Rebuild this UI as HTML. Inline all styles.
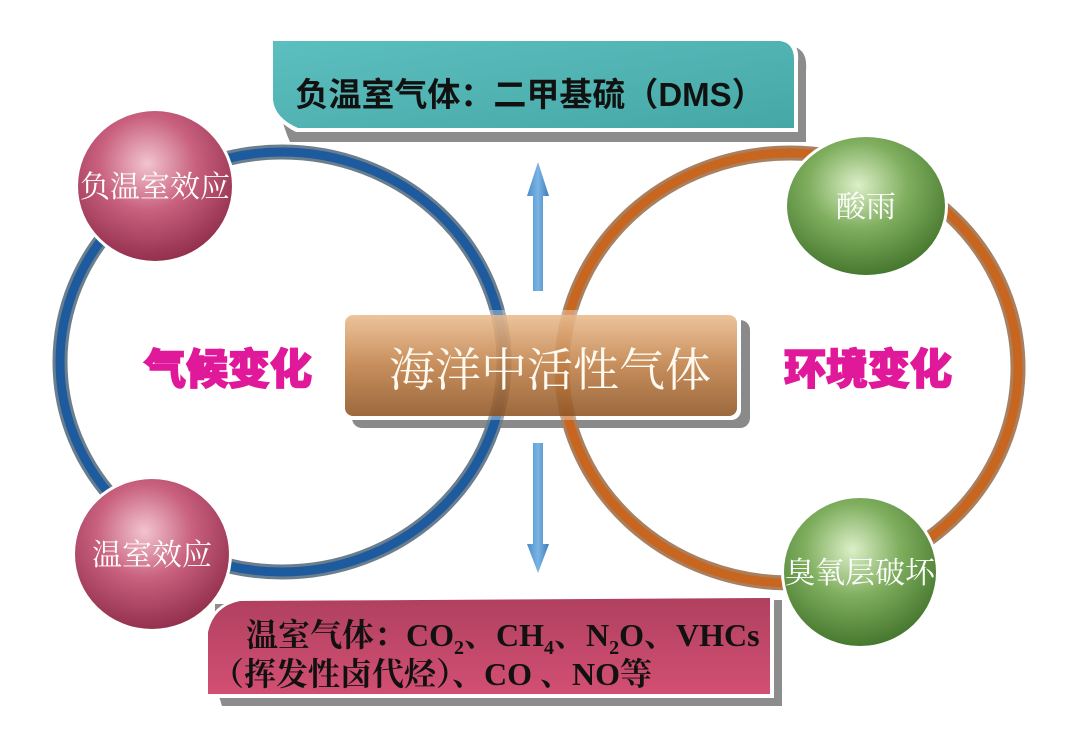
<!DOCTYPE html>
<html><head><meta charset="utf-8"><style>
html,body{margin:0;padding:0;background:#fff;}
svg{display:block;}
</style></head><body>
<svg width="1071" height="736" viewBox="0 0 1071 736" xmlns="http://www.w3.org/2000/svg">
<defs>
<radialGradient id="pk" cx="0.45" cy="0.35" r="0.7"><stop offset="0" stop-color="#f2c4d0"/><stop offset="0.45" stop-color="#c8607e"/><stop offset="1" stop-color="#8c2a48"/></radialGradient>
<radialGradient id="gr" cx="0.45" cy="0.35" r="0.7"><stop offset="0" stop-color="#dcefc8"/><stop offset="0.45" stop-color="#7fae5e"/><stop offset="1" stop-color="#3e7028"/></radialGradient>
<linearGradient id="br" x1="0" y1="0" x2="0" y2="1"><stop offset="0" stop-color="#e9b98a"/><stop offset="0.5" stop-color="#bd7a40"/><stop offset="1" stop-color="#8a4f1c"/></linearGradient>
<linearGradient id="tl" x1="0" y1="0" x2="1" y2="1"><stop offset="0" stop-color="#5cbfbf"/><stop offset="1" stop-color="#46a8a6"/></linearGradient>
<linearGradient id="rs" x1="0" y1="0" x2="0" y2="1"><stop offset="0" stop-color="#b0405f"/><stop offset="1" stop-color="#d24f72"/></linearGradient>
<linearGradient id="ar" x1="0" y1="0" x2="1" y2="0"><stop offset="0" stop-color="#4a8ccc"/><stop offset="0.5" stop-color="#7ab4e4"/><stop offset="1" stop-color="#3d7dbd"/></linearGradient>
</defs>
<!-- top box -->
<path d="M280 46 L790 46 Q808 48 806 70 L806 142 L290 142 Q280 120 280 100 Z" fill="#8c8c8c"/>
<path d="M270 38 L782 38 Q800 40 798 62 L798 132 L296 132 Q272 120 270 100 Z" fill="#fff"/>
<path d="M273 41 L780 41 Q795 43 794 62 L794 128 L298 128 Q275 118 273 100 Z" fill="url(#tl)"/>
<text x="530" y="106" text-anchor="middle" font-family="'Liberation Sans','Noto Sans CJK SC',sans-serif" font-weight="bold" font-size="33" fill="#111">负温室气体：二甲基硫（DMS）</text>
<!-- bottom box -->
<path d="M215 604 L782 600 L782 706 L222 706 L214 680 Z" fill="#8c8c8c"/>
<path d="M240 598 Q212 604 205 630 L205 698 L774 698 L774 596 Z" fill="#fff"/>
<path d="M240 601 Q214 606 208 632 L208 694 L770 694 L770 598 Z" fill="url(#rs)"/>
<text font-family="'Liberation Serif','Noto Serif CJK SC',serif" font-weight="bold" font-size="32" fill="#111">
<tspan x="246" y="646">温室气体：CO<tspan font-size="20" dy="8">2</tspan><tspan dy="-8">、CH</tspan><tspan font-size="20" dy="8">4</tspan><tspan dy="-8">、N</tspan><tspan font-size="20" dy="8">2</tspan><tspan dy="-8">O、VHCs</tspan></tspan>
<tspan x="212" y="685">（挥发性卤代烃）、CO 、NO等</tspan></text>
<!-- arrows -->
<path d="M538 162 L549 196 L543 196 L543 291 L533 291 L533 196 L527 196 Z" fill="url(#ar)"/>
<path d="M538 573 L549 544 L543 544 L543 443 L533 443 L533 544 L527 544 Z" fill="url(#ar)"/>
<!-- center box -->
<rect x="352" y="320" width="398" height="108" rx="10" fill="#8a8a8a"/>
<rect x="341" y="310" width="400" height="110" rx="10" fill="#fff"/>
<!-- circles -->
<ellipse cx="282" cy="362" rx="222" ry="210" fill="none" stroke="#6a7e8e" stroke-width="15"/>
<ellipse cx="282" cy="362" rx="222" ry="210" fill="none" stroke="#1d5b9e" stroke-width="9"/>
<ellipse cx="790" cy="368" rx="228" ry="215" fill="none" stroke="#a88060" stroke-width="15"/>
<ellipse cx="790" cy="368" rx="228" ry="215" fill="none" stroke="#c8661f" stroke-width="9"/>
<rect x="341" y="310" width="400" height="110" rx="10" fill="#fff" fill-opacity="0.35"/>
<rect x="345" y="315" width="392" height="101" rx="8" fill="url(#br)" fill-opacity="0.85"/>
<text x="550" y="386" text-anchor="middle" font-family="'Liberation Serif','Noto Serif CJK SC',serif" font-size="46" fill="#fffaf0">海洋中活性气体</text>
<!-- side labels -->
<text x="228" y="384" text-anchor="middle" font-family="'Liberation Sans','Noto Sans CJK SC',sans-serif" font-weight="900" font-size="42" fill="#e0189a" stroke="#e0189a" stroke-width="1.5">气候变化</text>
<text x="868" y="384" text-anchor="middle" font-family="'Liberation Sans','Noto Sans CJK SC',sans-serif" font-weight="900" font-size="42" fill="#e0189a" stroke="#e0189a" stroke-width="1.5">环境变化</text>
<!-- bubbles -->
<ellipse cx="155" cy="186" rx="80" ry="78" fill="#fff"/>
<ellipse cx="155" cy="186" rx="77" ry="75" fill="url(#pk)"/>
<text x="155" y="197" text-anchor="middle" font-family="'Liberation Serif','Noto Serif CJK SC',serif" font-size="30" fill="#fff">负温室效应</text>
<ellipse cx="152" cy="554" rx="80" ry="78" fill="#fff"/>
<ellipse cx="152" cy="554" rx="77" ry="75" fill="url(#pk)"/>
<text x="152" y="565" text-anchor="middle" font-family="'Liberation Serif','Noto Serif CJK SC',serif" font-size="30" fill="#fff">温室效应</text>
<ellipse cx="866" cy="206" rx="82" ry="72" fill="#fff"/>
<ellipse cx="866" cy="206" rx="79" ry="69" fill="url(#gr)"/>
<text x="866" y="217" text-anchor="middle" font-family="'Liberation Serif','Noto Serif CJK SC',serif" font-size="30" fill="#fff">酸雨</text>
<ellipse cx="860" cy="572" rx="79" ry="77" fill="#fff"/>
<ellipse cx="860" cy="572" rx="76" ry="74" fill="url(#gr)"/>
<text x="860" y="583" text-anchor="middle" font-family="'Liberation Serif','Noto Serif CJK SC',serif" font-size="30" fill="#fff">臭氧层破坏</text>
</svg>
</body></html>
